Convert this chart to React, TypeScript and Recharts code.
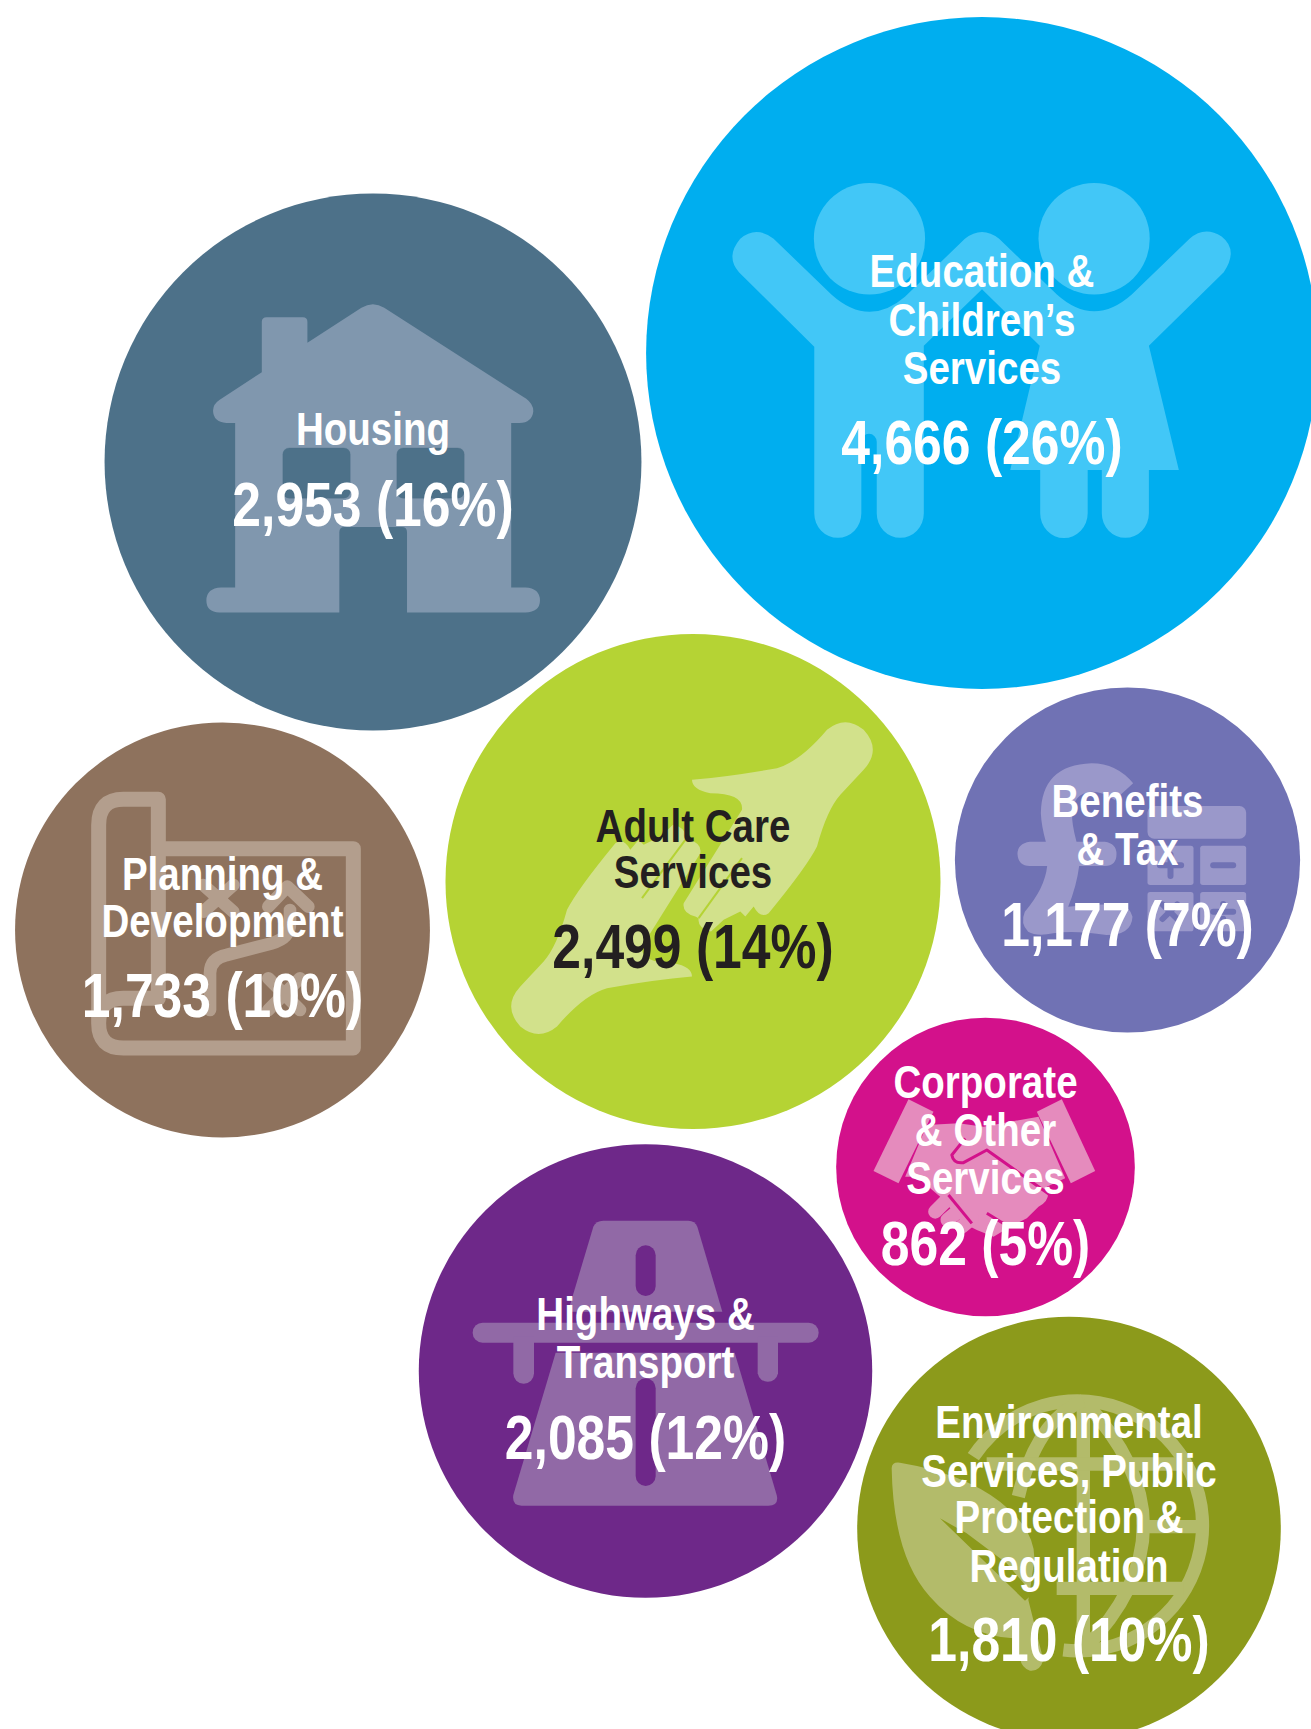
import { ScatterChart, Scatter, XAxis, YAxis, ZAxis } from 'recharts';

const CHART_W = 1311;
const CHART_H = 1729;

// one entry per bubble, same order everywhere
const services = ['Education', 'Housing', 'Planning', 'Adult', 'Benefits', 'Corporate', 'Highways', 'Environment'];
const nameLines = [
  ['Education &', 'Children\u2019s', 'Services'],
  ['Housing'],
  ['Planning &', 'Development'],
  ['Adult Care', 'Services'],
  ['Benefits', '& Tax'],
  ['Corporate', '& Other', 'Services'],
  ['Highways &', 'Transport'],
  ['Environmental', 'Services, Public', 'Protection &', 'Regulation'],
];
const values = [4666, 2953, 1733, 2499, 1177, 862, 2085, 1810];
const shares = [26, 16, 10, 14, 7, 5, 12, 10];
const bubbleX = [982, 373, 222.5, 693, 1127.5, 985.5, 645.5, 1069];
const bubbleY = [353, 462, 930, 881.5, 860, 1167, 1371, 1528.5];

const bubbleColours = ['#00aeef', '#4d7189', '#8e725d', '#b5d334', '#7072b4', '#d3118b', '#6e2889', '#8c9a1b'];
const iconColours = ['#42c7f7', '#8097ae', '#b39e8d', '#d2e18b', '#9a98ca', '#e58bbd', '#9169a6', '#b3bb6a'];
const textColours = ['#fff', '#fff', '#fff', '#231f20', '#fff', '#fff', '#fff', '#fff'];

// baseline of each text line (names, then the figure), relative to the bubble centre
const baselines = [
  [-66, -17, 31, 110.5],
  [-17, 63.5],
  [-40, 7, 86.5],
  [-40, 6, 86.5],
  [-43, 5, 85.5],
  [-69, -21, 27, 98],
  [-41, 7, 87.5],
  [-90.5, -42, 4.5, 53, 132.5],
];

const chartData = services.map((name, i) => ({ name, index: i, x: bubbleX[i], y: bubbleY[i], value: values[i] }));

const FONT = '"Liberation Sans", Arial, sans-serif';

// stands in for Arial Narrow Bold
function NarrowText({ y, size, fill, children }: any) {
  return (
    <text
      transform={`translate(0,${y}) scale(0.82,1)`}
      textAnchor="middle"
      fontFamily={FONT}
      fontWeight="bold"
      fontSize={size}
      fill={fill}
    >
      {children}
    </text>
  );
}

// icon artwork, in its own coordinates. box = [centreX, centreY, scaleX, scaleY]
const iconBoxes = [
  [800, 791, 1 / 2.337, 1 / 2.24],
  [778, 775, 1 / 2.851, 1 / 2.851],
  [667.5, 660, 1 / 3, 1 / 3],
  [758, 755, 1 / 3, 1 / 3],
  [563, 540, 1 / 3, 1 / 3],
  [466, 471, 1 / 3, 1 / 3],
  [706.5, 723, 1 / 3, 1 / 3],
  [657, 655.5, 1 / 3, 1 / 3],
];

function ChildrenSolid() {
  return (
    <g>
      <ellipse cx={537} cy={535} rx={130} ry={125} />
      <ellipse cx={1062} cy={535} rx={130} ry={125} />
      <path d="M232,610 L408,777 L408,1150 A55,55 0 0 0 518,1150 L518,990 A18,18 0 0 1 554,990 L554,1150 A55,55 0 0 0 664,1150 L664,775 L800,648 L935,775 L866,1053 L936,1053 L936,1150 A55,55 0 0 0 1047,1150 L1047,1053 L1080,1053 L1080,1150 A55,55 0 0 0 1190,1150 L1190,1053 L1260,1053 L1190,775 L1365,610 Q1400,560 1360,530 Q1320,505 1285,535 L1150,660 Q1062,735 975,660 L840,535 Q800,505 760,535 L620,665 Q535,735 448,660 L313,535 Q272,505 235,535 Q200,575 232,610 Z" />
    </g>
  );
}

function HouseSolid() {
  return (
    <path d="M461,375 Q461,362 475,362 L578,362 Q591,362 591,375 L591,435 L745,335 Q778,315 810,335 L1215,595 Q1235,610 1235,630 Q1232,662 1195,664 L1172,664 L1172,1133 L1212,1133 Q1254,1135 1254,1170 Q1254,1203 1212,1204 L875,1204 L875,975 Q875,960 860,960 L697,960 Q682,960 682,975 L682,1204 L340,1204 Q303,1203 303,1170 Q303,1135 345,1133 L385,1133 L385,664 L360,664 Q322,660 322,628 Q322,610 340,598 L461,519 Z" />
  );
}
function HouseCut() {
  return (
    <g>
      <rect x={521} y={735} width={192} height={143} rx={18} />
      <rect x={846} y={735} width={192} height={143} rx={18} />
    </g>
  );
}

function MapSolid() {
  return (
    <g fill="none" stroke="currentColor" strokeLinejoin="round" strokeLinecap="round">
      <path strokeWidth={45} d="M475,416 L1060,416 L1060,1014 L370,1014 Q296,1014 296,940 L296,345 Q296,268 370,268 L475,268 L475,865 L370,865 Q296,865 296,940" />
      <path strokeWidth={38} d="M630,900 L630,790 Q630,745 680,735 L815,700 Q870,685 870,640 L870,600" />
      <path strokeWidth={38} d="M805,590 L862,530 L925,590" />
      <path strokeWidth={38} d="M610,525 L700,605 M700,525 L610,605" />
      <path strokeWidth={38} d="M805,805 L900,900 M900,805 L805,900" />
    </g>
  );
}

const HAND = 'M755,450 Q870,440 1010,415 Q1080,395 1160,300 Q1215,255 1270,300 Q1325,360 1270,420 L1200,495 Q1160,540 1130,650 Q1100,710 985,850 Q960,868 940,830 L915,860 L900,845 L850,870 L812,905 Q770,895 775,865 L765,860 Q725,850 730,820 L905,540 Q910,490 810,490 Q755,480 755,450 Z';
function HandsSolid() {
  return (
    <g>
      <path d={HAND} />
      <path d={HAND} transform="rotate(180 755 745)" />
    </g>
  );
}
function HandsCut() {
  return (
    <g fill="none" strokeWidth={6}>
      <path d="M905,685 L775,865" />
      <path d="M605,805 L735,630" />
    </g>
  );
}

function TaxSolid() {
  return (
    <g>
      <path d="M580,310 Q530,250 455,250 Q305,255 303,400 Q305,440 318,485 L270,485 Q233,490 233,522 Q235,558 270,558 L322,558 Q315,625 255,695 Q240,730 265,755 Q290,770 340,760 Q400,750 500,765 Q575,765 578,710 Q570,680 540,675 Q470,670 385,680 Q410,620 418,558 L495,558 Q530,558 530,522 Q530,490 495,485 L410,485 Q395,430 397,400 Q400,340 455,335 Q490,335 525,360 Z" />
      <rect x={623} y={378} width={296} height={98} rx={20} />
      <rect x={623} y={497} width={138} height={118} rx={8} />
      <rect x={781} y={497} width={138} height={118} rx={8} />
      <rect x={623} y={636} width={138} height={118} rx={8} />
      <rect x={781} y={636} width={138} height={118} rx={8} />
    </g>
  );
}
function TaxCut() {
  return (
    <g fill="none" strokeWidth={18} strokeLinecap="round">
      <path d="M660,556 L724,556 M692,524 L692,588" />
      <path d="M820,556 L880,556" />
      <path d="M668,673 L712,717 M712,673 L668,717" />
      <path d="M820,695 L880,695" />
      <path d="M850,672 L850,673 M850,716 L850,717" />
    </g>
  );
}

function ShakeSolid() {
  return (
    <g>
      <path d="M235,268 L310,305 L205,520 L130,483 Z" />
      <path d="M695,268 L620,305 L722,520 L795,483 Z" />
      <path d="M290,345 L385,340 L460,350 L540,335 L625,320 L705,505 L650,530 Q665,570 625,590 L590,625 L540,650 L490,680 L440,660 L400,640 L330,560 L260,500 L225,500 Z" />
      <path d="M315,605 L345,575 M352,630 L388,600 M395,650 L425,625" stroke="currentColor" strokeWidth={42} strokeLinecap="round" />
    </g>
  );
}
function ShakeCut() {
  return (
    <g fill="none" strokeWidth={9} strokeLinejoin="round">
      <path d="M405,385 L365,435 Q370,462 400,458 L470,420 L660,555" />
      <path d="M470,610 L560,665" />
      <path d="M355,555 L425,640" />
    </g>
  );
}

function RoadSolid() {
  return (
    <g>
      <path d="M580,272 L835,272 Q855,272 862,290 L937,545 L474,545 L550,290 Q558,272 580,272 Z" />
      <path d="M437,668 L974,668 L1100,1095 Q1108,1127 1075,1127 L335,1127 Q305,1127 310,1095 Z" />
      <rect x={188} y={578} width={1038} height={60} rx={30} />
      <path d="M310,620 L372,620 L372,730 A31,31 0 0 1 310,730 Z" />
      <path d="M1043,620 L1104,620 L1104,730 A31,31 0 0 1 1043,730 Z" />
    </g>
  );
}
function RoadCut() {
  return (
    <g stroke="none">
      <rect x={677} y={346} width={60} height={152} rx={30} />
      <rect x={677} y={745} width={60} height={323} rx={30} />
    </g>
  );
}

function GlobeSolid() {
  return (
    <g>
      <g fill="none" stroke="currentColor" strokeWidth={40}>
        <path d="M370,440 A375,375 0 1 1 640,1020" />
        <path d="M700,272 L700,1020" />
        <path d="M700,272 Q1060,650 700,1020" />
        <path d="M700,272 Q560,330 505,560" />
        <path d="M410,462 L1010,462 M860,650 L1068,650 M620,835 L1000,835" />
      </g>
      <path d="M125,475 Q125,455 150,458 Q340,490 450,575 Q570,670 550,770 Q545,810 535,870 L580,1050 Q570,1085 540,1082 Q515,1075 510,1045 L490,985 Q340,975 240,860 Q130,740 125,475 Z" />
    </g>
  );
}
function GlobeCut() {
  return <path stroke="none" d="M270,625 L350,670 L470,760 L548,852 L525,872 L420,770 Z" />;
}

const iconSolids = [ChildrenSolid, HouseSolid, MapSolid, HandsSolid, TaxSolid, ShakeSolid, RoadSolid, GlobeSolid];
const iconCuts = [null, HouseCut, null, HandsCut, TaxCut, ShakeCut, RoadCut, GlobeCut];

function Bubble(props: any) {
  const { cx, cy, size } = props;
  const i = props.payload.index;
  const radius = Math.sqrt(size / Math.PI);
  const colour = bubbleColours[i];
  const [bx, by, sx, sy] = iconBoxes[i];
  const Solid = iconSolids[i];
  const Cut = iconCuts[i];
  const lines = nameLines[i];
  const base = baselines[i];
  return (
    <g transform={`translate(${cx},${cy})`}>
      <circle r={radius} fill={colour} />
      <g transform={`scale(${sx},${sy}) translate(${-bx},${-by})`}>
        <g fill={iconColours[i]} color={iconColours[i]}>
          <Solid />
        </g>
        {Cut ? (
          <g fill={colour} stroke={colour}>
            <Cut />
          </g>
        ) : null}
      </g>
      {lines.map((line, k) => (
        <NarrowText key={line} y={base[k]} size={47} fill={textColours[i]}>
          {line}
        </NarrowText>
      ))}
      <NarrowText y={base[lines.length]} size={63} fill={textColours[i]}>
        {`${values[i].toLocaleString('en-GB')} (${shares[i]}%)`}
      </NarrowText>
    </g>
  );
}

export default function App() {
  return (
    <div style={{ position: 'absolute', left: 0, top: 0, width: CHART_W, height: CHART_H, overflow: 'hidden' }}>
      <ScatterChart width={CHART_W} height={CHART_H} margin={{ top: 0, right: 0, bottom: 0, left: 0 }}>
        <XAxis type="number" dataKey="x" domain={[0, CHART_W]} hide />
        <YAxis type="number" dataKey="y" domain={[0, CHART_H]} reversed hide />
        {/* bubble area grows linearly with the value, fitted to the measured circles */}
        <ZAxis type="number" dataKey="value" domain={[862, 4666]} range={[Math.PI * 22301, Math.PI * 112836]} />
        <Scatter data={chartData} shape={Bubble} isAnimationActive={false} />
      </ScatterChart>
    </div>
  );
}
